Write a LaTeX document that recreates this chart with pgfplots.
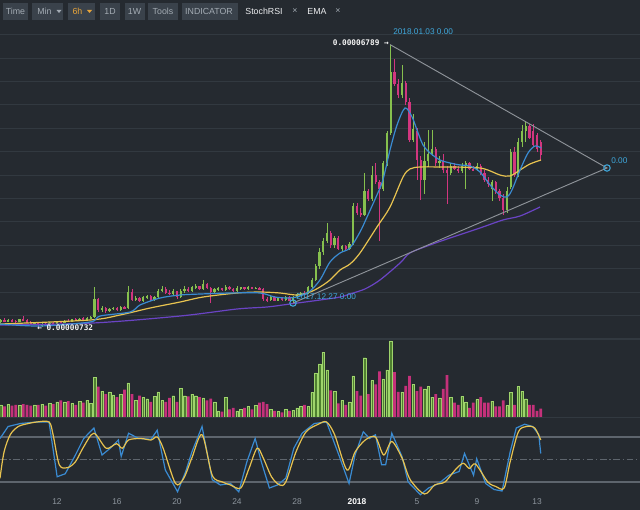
\documentclass[border=0pt]{standalone}
\usepackage{fontspec}
\setmainfont{Liberation Sans}
\newfontfamily\monofont{DejaVu Sans Mono}
\newfontfamily\djv{DejaVu Sans}
\usepackage{pgfplots}
\usepackage{pgfplotstable}
\pgfplotsset{compat=1.18}

\definecolor{bgc}{HTML}{252A30}
\definecolor{gridc}{HTML}{323940}
\definecolor{btn}{HTML}{3A424B}
\definecolor{tbtext}{HTML}{A3ABB3}
\definecolor{orng}{HTML}{E8A53A}
\definecolor{upc}{HTML}{86C04E}
\definecolor{dnc}{HTML}{D2367F}
\definecolor{vupfill}{HTML}{4F8030}
\definecolor{vupline}{HTML}{9FD46C}
\definecolor{vdn}{HTML}{C4317A}
\definecolor{emablue}{HTML}{3A8BD2}
\definecolor{emayel}{HTML}{E8C350}
\definecolor{emapur}{HTML}{6A44C4}
\definecolor{trend}{HTML}{8E9399}
\definecolor{cyanc}{HTML}{3FA8DC}
\definecolor{lvl}{HTML}{5E656D}
\definecolor{labc}{HTML}{8D959D}

% 6h candles, price in 1e-8; v = volume, % of the largest bar
\pgfplotstableread{
x o h l c v
8.25 880 930 850 900 16
8.75 880 920 860 905 17
9.50 870 930 860 915 15
10.50 820 860 790 840 16
11.00 790 830 760 810 17
11.50 800 860 790 845 18
12.00 820 880 810 870 20
12.50 840 900 830 890 20
13.00 870 930 860 915 18
13.50 890 950 880 935 21
14.00 920 960 900 950 22
14.25 950 990 930 965 18
14.50 965 1600 940 1350 52
15.00 1120 1200 1080 1160 34
15.50 1090 1160 1070 1140 33
15.75 1140 1190 1110 1170 29
16.25 1120 1200 1100 1180 30
16.75 1150 1620 1140 1500 45
17.25 1330 1420 1300 1380 22
17.75 1300 1420 1280 1390 26
18.00 1390 1440 1350 1410 24
18.50 1340 1420 1320 1400 27
18.75 1400 1560 1380 1530 33
19.00 1530 1620 1500 1570 22
19.75 1460 1560 1440 1520 28
20.25 1400 1560 1380 1520 38
20.50 1520 1620 1480 1560 28
21.00 1520 1640 1500 1600 30
21.25 1600 1680 1560 1620 28
21.75 1560 1760 1540 1680 25
22.50 1500 1580 1480 1560 20
22.75 1560 1600 1520 1580 8
23.25 1540 1660 1520 1600 26
24.00 1520 1620 1510 1590 8
24.25 1590 1610 1550 1600 10
24.75 1570 1620 1550 1600 14
25.25 1575 1610 1560 1590 15
26.25 1330 1420 1300 1390 10
26.75 1320 1400 1300 1380 7
27.25 1330 1420 1320 1400 10
27.75 1320 1420 1267 1400 9
28.00 1400 1480 1380 1450 12
28.25 1450 1500 1420 1480 14
28.75 1460 1620 1450 1600 14
29.00 1600 1800 1580 1760 32
29.25 1760 2100 1740 2050 58
29.50 2050 2450 2000 2350 70
29.75 2350 2650 2300 2600 85
30.00 2600 2980 2550 2760 62
30.50 2500 2700 2450 2650 34
31.00 2420 2500 2380 2480 22
31.50 2420 2560 2400 2520 20
31.75 2520 3400 2500 3330 54
32.50 3150 4050 3120 3650 78
33.00 3480 4200 3450 4000 48
33.75 3700 4300 3650 4250 50
34.00 4250 4950 4200 4900 62
34.25 4900 6789 4850 6200 100
35.00 5720 6350 5650 5970 33
35.75 4750 5300 4700 4980 43
36.50 3900 4700 3600 4300 37
36.75 4300 4960 4200 4450 40
37.00 4450 4960 4400 4550 26
37.50 4250 4400 4150 4300 25
38.25 4050 4250 4000 4200 26
39.00 4080 4250 4050 4200 27
39.25 4200 4300 3700 4250 20
40.00 4100 4250 4080 4200 23
41.00 3700 3900 3450 3850 21
42.00 3250 3750 3200 3650 15
42.25 3750 4550 3700 4500 32
42.75 4000 4800 3950 4700 40
43.00 4700 5080 4600 4950 34
43.25 4950 5150 4700 5050 24
}\up

\pgfplotstableread{
x o h l c v
8.50 900 940 870 880 14
9.00 905 925 870 880 15
9.25 880 900 850 870 16
9.75 915 990 890 900 17
10.00 900 920 840 850 16
10.25 850 880 800 820 15
10.75 840 850 732 790 16
11.25 810 850 780 800 15
11.75 845 870 800 820 17
12.25 870 890 830 840 22
12.75 890 920 860 870 21
13.25 915 940 880 890 16
13.75 935 960 900 920 19
14.75 1350 1380 1080 1120 40
15.25 1160 1180 1060 1090 30
16.00 1170 1190 1100 1120 26
16.50 1180 1200 1130 1150 36
17.00 1500 1560 1300 1330 30
17.50 1380 1400 1280 1300 28
18.25 1410 1430 1320 1340 20
19.25 1570 1600 1470 1490 20
19.50 1490 1540 1440 1460 25
20.00 1520 1530 1360 1400 20
20.75 1560 1600 1500 1520 27
21.50 1620 1640 1540 1560 26
22.00 1680 1700 1560 1580 22
22.25 1580 1600 1270 1500 24
23.00 1580 1590 1520 1540 7
23.50 1600 1620 1540 1560 10
23.75 1560 1580 1500 1520 12
24.50 1600 1610 1550 1570 12
25.00 1600 1610 1560 1575 10
25.50 1590 1600 1540 1560 19
25.75 1560 1580 1300 1350 20
26.00 1350 1400 1290 1330 17
26.50 1390 1410 1300 1320 8
27.00 1380 1390 1310 1330 6
27.50 1400 1410 1300 1320 8
28.50 1480 1520 1440 1460 16
30.25 2760 2800 2450 2500 35
30.75 2650 2700 2400 2420 18
31.25 2480 2500 2390 2420 16
32.00 3330 3400 3150 3200 34
32.25 3200 3300 3100 3150 28
32.75 3650 3700 3450 3480 30
33.25 4000 4250 3800 3850 43
33.50 3850 3900 2600 3700 60
34.50 6200 6480 5900 5950 59
34.75 5950 6050 5650 5720 33
35.25 5970 6000 5500 5560 41
35.50 5560 5650 4700 4750 54
36.00 4950 5000 3900 4320 34
36.25 4320 4400 3470 3900 40
37.25 4550 4600 4200 4250 30
37.75 4300 4450 4050 4100 37
38.00 4100 4200 3380 4050 55
38.50 4200 4250 4100 4130 19
38.75 4130 4200 4050 4080 16
39.50 4250 4280 4100 4130 12
39.75 4130 4200 4080 4100 19
40.25 4200 4230 4000 4050 26
40.50 4050 4100 3850 3900 19
40.75 3900 3950 3750 3800 19
41.25 3850 3880 3600 3650 14
41.50 3650 3700 3450 3500 14
41.75 3500 3600 3150 3250 22
42.50 4500 4600 3950 4000 16
43.50 5050 5100 4780 4800 16
43.75 4950 5100 4600 4650 16
44.00 4850 4900 4500 4550 8
44.25 4700 4750 4300 4420 11
}\dn

\pgfplotsset{
  panel/.style={scale only axis, anchor=south west, width=480pt,
    xmin=8.2, xmax=50.8667, axis line style={draw=none},
    major tick length=0pt, xtick=\empty, yticklabels={}},
  wick/.style={draw=none, mark=none, forget plot,
    error bars/.cd, y dir=both, y explicit, error mark=none,
    error bar style={line width=0.6pt, draw=#1}},
  body/.style={draw=none, mark=none, forget plot,
    error bars/.cd, y dir=both, y explicit, error mark=none,
    error bar style={line width=1.75pt, draw=#1}},
}

\begin{document}
\begin{tikzpicture}
\path[use as bounding box] (0,0) rectangle (480pt,382.5pt);
\fill[bgc] (0,0) rectangle (480pt,382.5pt);

% toolbar
\foreach \a/\b in {3/28, 32/63, 68/95, 100/120, 125/145, 148/178, 182/238}
  \fill[btn] (\a*0.75pt,367.5pt) rectangle (\b*0.75pt,380.25pt);
\begin{scope}[every node/.style={font=\fontsize{6.6}{7}\selectfont, text=tbtext, inner sep=0pt}]
  \node at (15.5*0.75pt,373.9pt) {Time};
  \node at (44.5*0.75pt,373.9pt) {Min};
  \node[text=orng] at (77.5*0.75pt,373.9pt) {6h};
  \node at (110*0.75pt,373.9pt) {1D};
  \node at (134.5*0.75pt,373.9pt) {1W};
  \node at (163*0.75pt,373.9pt) {Tools};
  \node at (209*0.75pt,373.9pt) {INDICATOR};
  \node[text=white!80!tbtext] at (264*0.75pt,373.9pt) {StochRSI};
  \node at (295*0.75pt,373.9pt) {×};
  \node[text=white!80!tbtext] at (317*0.75pt,373.9pt) {EMA};
  \node at (338*0.75pt,373.9pt) {×};
\end{scope}
\fill[tbtext] (56.5*0.75pt,375pt) -- (61.5*0.75pt,375pt) -- (59*0.75pt,372.8pt) -- cycle;
\fill[orng] (87*0.75pt,375pt) -- (92*0.75pt,375pt) -- (89.5*0.75pt,372.8pt) -- cycle;

% price panel
\begin{axis}[panel, at={(0pt,127.5pt)}, height=236.25pt, ymin=477, ymax=7207,
  ytick={500,1000,...,7000}, ymajorgrids, grid style={draw=gridc, line width=0.75pt}]
  \addplot[wick=upc] table[x=x, y expr={(\thisrow{h}+\thisrow{l})/2}, y error expr={(\thisrow{h}-\thisrow{l})/2}] {\up};
  \addplot[wick=dnc] table[x=x, y expr={(\thisrow{h}+\thisrow{l})/2}, y error expr={(\thisrow{h}-\thisrow{l})/2}] {\dn};
  \addplot[body=upc] table[x=x, y expr={(\thisrow{o}+\thisrow{c})/2}, y error expr={max(abs(\thisrow{c}-\thisrow{o})/2,10)}] {\up};
  \addplot[body=dnc] table[x=x, y expr={(\thisrow{o}+\thisrow{c})/2}, y error expr={max(abs(\thisrow{c}-\thisrow{o})/2,10)}] {\dn};
  % EMA long
  \addplot[emapur, line width=0.9pt, smooth] coordinates {(8.2,797) (14.4,840) (20.2,989) (24,1139) (26,1182) (27.53,1246) (29.53,1331) (30.87,1395) (31.53,1460) (32.53,1567) (33.53,1759) (34.87,2122) (35.53,2336) (36.87,2507) (38.2,2656) (40.2,2870) (41.73,3041) (42.87,3126) (44.2,3318)};
  % EMA mid
  \addplot[emayel, line width=0.9pt, smooth] coordinates {(8.2,818) (14.2,904) (16.2,1011) (18.2,1160) (20.2,1288) (21.73,1395) (24,1481) (25.53,1502) (26.87,1481) (28,1438) (28.87,1502) (29.53,1609) (30.2,1759) (30.87,1972) (31.53,2100) (32.2,2336) (33.33,2891) (34.2,3318) (35.07,3960) (35.53,4131) (36.2,4173) (37.53,4173) (40.2,4152) (41.53,4002) (42.2,3981) (42.87,4109) (43.53,4237) (44.27,4323)};
  % EMA fast
  \addplot[emablue, line width=0.9pt, smooth] coordinates {(8.2,818) (10.87,776) (14.2,861) (14.87,989) (16.87,1075) (17.53,1224) (18.87,1374) (20.2,1438) (21.53,1459) (23.53,1481) (25.53,1481) (26.53,1395) (27.53,1374) (28.2,1417) (28.87,1523) (29.53,1759) (30.2,2143) (30.87,2336) (31.53,2442) (32.2,2784) (32.67,3105) (33.33,3575) (33.73,3896) (34.2,4537) (34.67,5071) (35.2,5434) (35.67,5242) (36,4964) (36.4,4644) (36.87,4473) (37.53,4323) (38.2,4259) (38.87,4216) (39.53,4195) (40.2,4067) (40.87,3789) (41.53,3575) (42,3532) (42.33,3682) (42.87,4109) (43.4,4473) (43.87,4622) (44.27,4580)};
  % triangle drawing
  \addplot[trend, line width=0.7pt, mark=o, mark indices={1,2}, mark size=2.4pt,
    mark options={draw=cyanc, fill=bgc, line width=0.8pt}] coordinates {(27.733,1267) (48.667,4152) (34.2,6789)};
  \node[anchor=east, inner sep=0pt, text=white!92!gray, font=\monofont\bfseries\fontsize{5.8}{6}\selectfont] at (axis cs:34.133,6823) {0.00006789 →};
  \node[anchor=west, inner sep=0pt, text=white!92!gray, font=\monofont\bfseries\fontsize{5.8}{6}\selectfont] at (axis cs:10.667,733) {← 0.00000732};
  \node[anchor=west, inner sep=0pt, text=cyanc, font=\fontsize{6.2}{7}\selectfont] at (axis cs:34.4,7058) {2018.01.03 0.00};
  \node[anchor=west, inner sep=0pt, text=cyanc, font=\fontsize{6.2}{7}\selectfont] at (axis cs:27.933,1395) {2017.12.27 0.00};
  \node[anchor=west, inner sep=0pt, text=cyanc, font=\fontsize{6.2}{7}\selectfont] at (axis cs:48.933,4302) {0.00};
\end{axis}

% volume panel
\begin{axis}[panel, at={(0pt,69pt)}, height=58.5pt, ymin=-1.32, ymax=101.3, ytick=\empty]
  \addplot[ybar, bar width=1.9pt, bar shift=0pt, fill=vupfill, draw=vupline, line width=0.3pt] table[x=x, y=v] {\up};
  \addplot[ybar, bar width=1.9pt, bar shift=0pt, fill=vdn, draw=none] table[x=x, y=v] {\dn};
\end{axis}

% StochRSI panel
\begin{axis}[panel, at={(0pt,9.75pt)}, height=59.25pt, ymin=0, ymax=105.33, ytick=\empty,
  xtick={12,16,20,24,28,32,36,40,44},
  xticklabels={12,16,20,24,28,\textcolor{white}{\bfseries 2018},5,9,13},
  xticklabel style={font=\fontsize{6.3}{7}\selectfont, text=labc, inner sep=0pt, anchor=north, yshift=-1pt}]
  \addplot[lvl, line width=0.8pt] coordinates {(8.2,80) (50.8667,80)};
  \addplot[lvl, line width=0.8pt] coordinates {(8.2,20) (50.8667,20)};
  \addplot[lvl, line width=0.6pt, dash pattern=on 5pt off 2pt on 1pt off 2pt] coordinates {(8.2,50) (50.8667,50)};
  % K
  \addplot[emablue, line width=0.9pt] coordinates {(8.20,78) (8.74,94) (9.56,98) (10.65,100) (11.47,100) (12.01,27) (12.55,31) (13.23,56) (13.78,78) (14.46,92) (15.00,56) (15.55,65) (16.09,76) (16.28,54) (16.77,85) (17.45,78) (18.27,77) (18.68,89) (19.22,36) (20.04,7) (20.58,34) (20.99,60) (21.67,94) (22.35,23) (22.89,16) (23.57,18) (24.12,7) (24.66,47) (25.21,78) (25.62,47) (26.16,12) (26.70,16) (27.25,25) (27.79,65) (28.34,85) (29.15,98) (29.97,100) (30.79,56) (31.47,18) (31.87,56) (32.42,87) (32.83,78) (33.23,83) (33.64,43) (33.91,43) (34.32,85) (35.00,54) (35.41,20) (36.23,3) (36.77,12) (37.45,18) (38.13,29) (38.81,34) (39.17,58) (39.77,29) (39.98,51) (40.58,18) (41.13,10) (41.67,8) (42.21,60) (42.62,92) (43.17,97) (43.71,94) (44.12,83) (44.25,58)};
  % D
  \addplot[emayel, line width=0.9pt, smooth] coordinates {(8.20,25) (8.47,60) (8.88,83) (9.42,94) (10.10,98) (10.65,100) (11.47,100) (11.74,83) (12.15,43) (12.69,39) (13.23,47) (13.78,67) (14.46,85) (15.28,65) (15.96,71) (16.36,65) (16.77,76) (17.59,78) (18.27,76) (18.68,80) (19.08,65) (19.90,18) (20.45,25) (20.99,52) (21.67,83) (22.35,29) (23.03,20) (23.57,16) (24.25,12) (24.80,38) (25.34,65) (25.75,52) (26.30,27) (26.84,16) (27.25,20) (27.93,60) (28.61,87) (29.42,97) (29.97,100) (30.51,83) (31.33,36) (31.87,60) (32.55,76) (33.23,80) (33.78,56) (34.32,74) (35.00,52) (35.55,23) (36.50,4) (37.18,16) (37.86,20) (38.54,36) (39.08,45) (39.49,38) (39.90,44) (40.72,20) (41.26,14) (41.81,12) (42.21,47) (42.76,87) (43.30,94) (43.85,92) (44.25,76)};
\end{axis}

% panel separators
\draw[gridc, line width=0.75pt] (0,127.5pt) -- (480pt,127.5pt);
\draw[gridc, line width=0.75pt] (0,69pt) -- (480pt,69pt);
\end{tikzpicture}
\end{document}
